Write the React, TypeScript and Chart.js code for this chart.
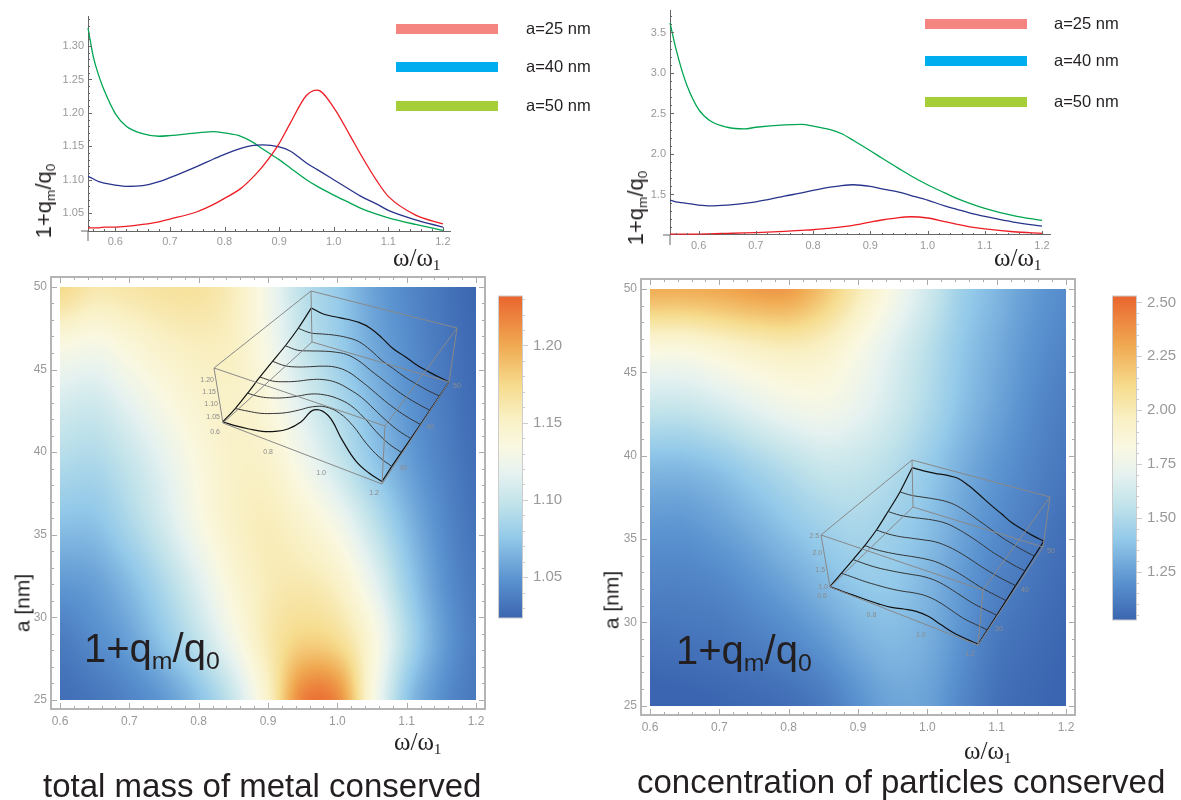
import React, { useEffect, useRef } from "react";
import { Chart, registerables } from "chart.js";

Chart.register(...registerables);

// ---------- data ----------
const curveOmega = [0.55, 0.56, 0.57, 0.58, 0.6, 0.62, 0.65, 0.68, 0.7, 0.75, 0.78, 0.8, 0.83, 0.85, 0.87, 0.9, 0.92, 0.95, 0.97, 1.0, 1.03, 1.05, 1.08, 1.1, 1.15, 1.2];
const metal25 = [1.028, 1.028, 1.028, 1.029, 1.029, 1.03, 1.033, 1.037, 1.041, 1.052, 1.063, 1.072, 1.087, 1.102, 1.12, 1.154, 1.184, 1.226, 1.234, 1.208, 1.166, 1.137, 1.097, 1.075, 1.047, 1.034];
const metal40 = [1.105, 1.101, 1.097, 1.095, 1.092, 1.09, 1.091, 1.097, 1.103, 1.12, 1.131, 1.138, 1.147, 1.151, 1.152, 1.149, 1.143, 1.125, 1.115, 1.1, 1.085, 1.075, 1.063, 1.054, 1.04, 1.029];
const metal50 = [1.327, 1.283, 1.255, 1.233, 1.199, 1.18, 1.169, 1.165, 1.166, 1.17, 1.172, 1.17, 1.165, 1.157, 1.146, 1.13, 1.118, 1.1, 1.09, 1.077, 1.065, 1.057, 1.048, 1.043, 1.033, 1.024];
const conc25 = [1.01, 1.01, 1.01, 1.01, 1.012, 1.015, 1.02, 1.025, 1.03, 1.045, 1.057, 1.065, 1.085, 1.1, 1.12, 1.16, 1.185, 1.215, 1.225, 1.21, 1.165, 1.135, 1.095, 1.075, 1.04, 1.02];
const conc40 = [1.43, 1.41, 1.4, 1.39, 1.37, 1.36, 1.37, 1.39, 1.41, 1.48, 1.52, 1.55, 1.59, 1.61, 1.62, 1.6, 1.57, 1.53, 1.49, 1.43, 1.36, 1.32, 1.26, 1.23, 1.16, 1.11];
const conc50 = [3.62, 3.31, 3.05, 2.84, 2.55, 2.41, 2.33, 2.31, 2.33, 2.36, 2.365, 2.345, 2.3, 2.25, 2.17, 2.04, 1.95, 1.82, 1.735, 1.62, 1.52, 1.455, 1.375, 1.33, 1.24, 1.18];

const gridOmega = [0.6, 0.65, 0.7, 0.75, 0.8, 0.85, 0.9, 0.95, 1.0, 1.05, 1.1, 1.15, 1.2];
const gridA = [25, 28.57, 32.14, 35.71, 39.29, 42.86, 46.43, 50];
const metalGrid = [
  [1.029, 1.033, 1.041, 1.052, 1.072, 1.102, 1.15, 1.218, 1.215, 1.137, 1.075, 1.047, 1.034],
  [1.036, 1.045, 1.056, 1.075, 1.098, 1.128, 1.16, 1.178, 1.172, 1.14, 1.09, 1.055, 1.036],
  [1.052, 1.056, 1.07, 1.09, 1.115, 1.142, 1.157, 1.16, 1.15, 1.12, 1.08, 1.05, 1.034],
  [1.072, 1.073, 1.088, 1.108, 1.132, 1.15, 1.156, 1.146, 1.128, 1.098, 1.068, 1.045, 1.031],
  [1.09, 1.088, 1.1, 1.118, 1.137, 1.15, 1.148, 1.128, 1.103, 1.077, 1.056, 1.04, 1.029],
  [1.108, 1.105, 1.118, 1.133, 1.145, 1.15, 1.138, 1.113, 1.09, 1.068, 1.05, 1.037, 1.027],
  [1.135, 1.13, 1.14, 1.15, 1.155, 1.152, 1.13, 1.1, 1.08, 1.06, 1.046, 1.034, 1.026],
  [1.175, 1.162, 1.164, 1.167, 1.167, 1.155, 1.127, 1.095, 1.077, 1.057, 1.043, 1.033, 1.024],
];
const concGrid = [
  [1.01, 1.015, 1.03, 1.045, 1.065, 1.11, 1.2, 1.27, 1.26, 1.16, 1.075, 1.04, 1.02],
  [1.07, 1.08, 1.09, 1.12, 1.16, 1.22, 1.3, 1.34, 1.3, 1.2, 1.1, 1.06, 1.03],
  [1.14, 1.14, 1.16, 1.21, 1.27, 1.34, 1.4, 1.4, 1.33, 1.23, 1.14, 1.09, 1.05],
  [1.22, 1.22, 1.26, 1.32, 1.39, 1.45, 1.48, 1.44, 1.37, 1.27, 1.18, 1.12, 1.07],
  [1.35, 1.35, 1.39, 1.46, 1.53, 1.59, 1.58, 1.52, 1.42, 1.31, 1.22, 1.15, 1.1],
  [1.58, 1.58, 1.63, 1.7, 1.76, 1.78, 1.72, 1.62, 1.5, 1.37, 1.27, 1.18, 1.12],
  [1.85, 1.85, 1.9, 1.95, 1.98, 1.94, 1.82, 1.68, 1.54, 1.4, 1.3, 1.21, 1.15],
  [2.28, 2.28, 2.3, 2.34, 2.34, 2.2, 2.0, 1.8, 1.62, 1.44, 1.335, 1.24, 1.18],
];

const omegaTicks = [0.6, 0.7, 0.8, 0.9, 1.0, 1.1, 1.2];
const metalTicks = [1.05, 1.1, 1.15, 1.2, 1.25, 1.3];
const concTicks = [1.5, 2.0, 2.5, 3.0, 3.5];
const aTicks = [25, 30, 35, 40, 45, 50];
const metalBarTicks = [1.05, 1.1, 1.15, 1.2];
const concBarTicks = [1.25, 1.5, 1.75, 2.0, 2.25, 2.5];
const legendLabels = ["a=25 nm", "a=40 nm", "a=50 nm"];
const legendColors = ["#f58580", "#00aeef", "#a6ce39"];
const lineColors = ["#ed1c24", "#27348b", "#00a651"];

const stops: [number, string][] = [
  [0, "#3b65b0"], [0.12, "#5b93d0"], [0.25, "#93c9e9"], [0.35, "#bfe2ea"], [0.45, "#e6f2f0"],
  [0.53, "#f9f8e2"], [0.62, "#f9f0c4"], [0.72, "#f6dc8e"], [0.85, "#f0a850"], [1, "#e9652f"],
];

// ---------- helpers ----------
const W = 1181, H = 800;
const stopRgb = stops.map(([p, c]) => [p, parseInt(c.slice(1, 3), 16), parseInt(c.slice(3, 5), 16), parseInt(c.slice(5, 7), 16)]);
function colorAt(t: number) {
  t = Math.max(0, Math.min(1, t));
  for (let i = 1; i < stopRgb.length; i++) {
    if (t <= stopRgb[i][0]) {
      const a = stopRgb[i - 1], b = stopRgb[i];
      const f = (t - a[0]) / (b[0] - a[0]);
      return [a[1] + (b[1] - a[1]) * f, a[2] + (b[2] - a[2]) * f, a[3] + (b[3] - a[3]) * f];
    }
  }
  return stopRgb[stopRgb.length - 1].slice(1);
}
function range(from: number, to: number, step: number) {
  const out: number[] = [];
  for (let v = from; v <= to + step / 1000; v += step) out.push(+v.toFixed(4));
  return out;
}
function padFor(l: number, t: number, r: number, b: number, axisW: number, axisH: number, rightAxis = false) {
  return rightAxis
    ? { left: l, top: t, right: W - r - axisW, bottom: H - b - axisH }
    : { left: l - axisW, top: t, right: W - r, bottom: H - b - axisH };
}
function fixedTicks(vals: number[], digits: number, color: string, size: number, padding: number, axisSize: number, vertical: boolean) {
  return {
    afterBuildTicks: (s: any) => { s.ticks = vals.map((value) => ({ value })); },
    afterFit: (s: any) => { if (vertical) s.width = axisSize; else s.height = axisSize; },
    grid: { display: false, drawTicks: false },
    ticks: {
      autoSkip: false, maxRotation: 0, minRotation: 0, padding, color,
      font: { family: "'Liberation Sans', Arial, sans-serif", size },
      callback: (v: any) => Number(v).toFixed(digits),
    },
  };
}
type Marks = { xMajor?: number[]; xMinor?: number[]; yMajor?: number[]; yMinor?: number[]; color: string; major: number; minor: number; frame?: boolean; extend?: boolean; };
function marksPlugin(m: Marks) {
  return {
    id: "marks",
    afterDatasetsDraw(chart: any) {
      const { ctx, chartArea: c, scales } = chart;
      ctx.save();
      ctx.strokeStyle = m.color;
      ctx.lineWidth = 1;
      const line = (a: number, b: number, d: number, e: number) => { ctx.beginPath(); ctx.moveTo(a, b); ctx.lineTo(d, e); ctx.stroke(); };
      const xt = (vals: number[] | undefined, len: number) => (vals || []).forEach((v) => {
        const x = Math.round(scales.x.getPixelForValue(v)) + 0.5;
        line(x, c.bottom, x, c.bottom - len);
        if (m.frame) line(x, c.top, x, c.top + len);
      });
      const yt = (vals: number[] | undefined, len: number) => (vals || []).forEach((v) => {
        const y = Math.round(scales.y.getPixelForValue(v)) + 0.5;
        line(c.left, y, c.left + len, y);
        if (m.frame) line(c.right, y, c.right - len, y);
      });
      xt(m.xMinor, m.minor); xt(m.xMajor, m.major); yt(m.yMinor, m.minor); yt(m.yMajor, m.major);
      if (m.extend) { line(c.left, c.bottom, c.left, c.bottom + 10); line(c.left - 7, c.bottom, c.left, c.bottom); }
      if (m.frame) { ctx.strokeStyle = "#b4b4b4"; ctx.lineWidth = 2; ctx.strokeRect(c.left, c.top, c.right - c.left, c.bottom - c.top); }
      ctx.restore();
    },
  };
}
function cr(p0: number, p1: number, p2: number, p3: number, t: number) {
  return 0.5 * (2 * p1 + (p2 - p0) * t + (2 * p0 - 5 * p1 + 4 * p2 - p3) * t * t + (3 * p1 - p0 - 3 * p2 + p3) * t * t * t);
}
function sample(grid: number[][], u: number, v: number) {
  const nx = grid[0].length, ny = grid.length;
  const fx = u * (nx - 1), fy = v * (ny - 1);
  const ix = Math.min(nx - 2, Math.floor(fx)), iy = Math.min(ny - 2, Math.floor(fy));
  const tx = fx - ix, ty = fy - iy;
  const row = (j: number) => {
    const r = grid[Math.max(0, Math.min(ny - 1, j))];
    const g = (i: number) => r[Math.max(0, Math.min(nx - 1, i))];
    return cr(g(ix - 1), g(ix), g(ix + 1), g(ix + 2), tx);
  };
  return cr(row(iy - 1), row(iy), row(iy + 1), row(iy + 2), ty);
}
function heatPlugin(grid: number[][], vMin: number, vMax: number) {
  let off: HTMLCanvasElement | null = null;
  return {
    id: "heat",
    beforeDatasetsDraw(chart: any) {
      const { ctx, scales } = chart;
      const x0 = scales.x.getPixelForValue(gridOmega[0]), x1 = scales.x.getPixelForValue(gridOmega[gridOmega.length - 1]);
      const y0 = scales.y.getPixelForValue(gridA[gridA.length - 1]), y1 = scales.y.getPixelForValue(gridA[0]);
      const w = Math.round(x1 - x0), h = Math.round(y1 - y0);
      if (!off) {
        off = document.createElement("canvas");
        off.width = w; off.height = h;
        const oc = off.getContext("2d")!;
        const img = oc.createImageData(w, h);
        for (let j = 0; j < h; j++) for (let i = 0; i < w; i++) {
          const val = sample(grid, (i + 0.5) / w, 1 - (j + 0.5) / h);
          const col = colorAt((val - vMin) / (vMax - vMin));
          const k = (j * w + i) * 4;
          img.data[k] = col[0]; img.data[k + 1] = col[1]; img.data[k + 2] = col[2]; img.data[k + 3] = 255;
        }
        oc.putImageData(img, 0, 0);
      }
      ctx.drawImage(off, x0, y0, x1 - x0, y1 - y0);
    },
  };
}
type Box = { f: number[][]; t: number[][]; zMin: number; zMax: number };
function project(b: Box, om: number, a: number, z: number) {
  const u = (om - 0.6) / 0.6, v = (a - 25) / 25, w = (z - b.zMin) / (b.zMax - b.zMin);
  const bil = (q: number[][], k: number) => (1 - v) * ((1 - u) * q[0][k] + u * q[1][k]) + v * ((1 - u) * q[3][k] + u * q[2][k]);
  return { x: bil(b.f, 0) + (bil(b.t, 0) - bil(b.f, 0)) * w, y: bil(b.f, 1) + (bil(b.t, 1) - bil(b.f, 1)) * w };
}

// ---------- charts ----------
const SERIF = "'Liberation Serif', 'Times New Roman', serif";
const SANS = "'Liberation Sans', Arial, sans-serif";

function lineCfg(l: number, t: number, r: number, b: number, xMin: number, xMax: number, yMin: number, yMax: number, yTicks: number[], yMinor: number[], series: number[][], size: number, pad: number) {
  return {
    type: "line",
    data: {
      labels: curveOmega,
      datasets: series.map((s, i) => ({
        data: s.map((y, k) => ({ x: curveOmega[k], y })),
        borderColor: lineColors[i], borderWidth: 1.3, pointRadius: 0, cubicInterpolationMode: "monotone", clip: false,
      })),
    },
    options: {
      animation: false, responsive: false, events: [],
      layout: { padding: padFor(l, t, r, b, 40, 30) },
      plugins: { legend: { display: false }, tooltip: { enabled: false } },
      scales: {
        x: { type: "linear", min: xMin, max: xMax, border: { color: "#666", width: 1 }, ...fixedTicks(omegaTicks, 1, "#999", size, pad, 30, false) },
        y: { type: "linear", min: yMin, max: yMax, border: { color: "#666", width: 1 }, ...fixedTicks(yTicks, yTicks[0] < 1.1 ? 2 : 1, "#999", size, 4, 40, true) },
      },
    },
    plugins: [marksPlugin({ xMajor: omegaTicks, xMinor: range(0.56, 1.2, 0.02), yMajor: yTicks, yMinor, color: "#666", major: 4, minor: 2, extend: true })],
  };
}
function heatCfg(l: number, t: number, r: number, b: number, grid: number[][], vMin: number, vMax: number) {
  return {
    type: "scatter",
    data: {
      datasets: [{
        data: grid.flatMap((row, j) => row.map((v, i) => ({ x: gridOmega[i], y: gridA[j], v }))),
        pointRadius: 0, showLine: false,
      }],
    },
    options: {
      animation: false, responsive: false, events: [],
      layout: { padding: padFor(l, t, r, b, 40, 30) },
      plugins: { legend: { display: false }, tooltip: { enabled: false } },
      scales: {
        x: { type: "linear", min: 0.587, max: 1.213, border: { display: false }, ...fixedTicks(omegaTicks, 1, "#999", 12, 5, 30, false) },
        y: { type: "linear", min: 24.45, max: 50.6, border: { display: false }, ...fixedTicks(aTicks, 0, "#999", 12, 4, 40, true) },
      },
    },
    plugins: [heatPlugin(grid, vMin, vMax), marksPlugin({ xMajor: omegaTicks, xMinor: range(0.6, 1.2, 0.02), yMajor: aTicks, yMinor: range(25, 50, 1), color: "#aaa", major: 6, minor: 3, frame: true })],
  };
}
function barCfg(l: number, t: number, r: number, b: number, vMin: number, vMax: number, ticks: number[], digits: number, minor: number[]) {
  return {
    type: "bar",
    data: {
      labels: ["scale"],
      datasets: [{
        data: [[vMin, vMax]], barPercentage: 1, categoryPercentage: 1, borderWidth: 0,
        backgroundColor: (c: any) => {
          const a = c.chart.chartArea;
          if (!a) return stops[0][1];
          const g = c.chart.ctx.createLinearGradient(0, a.bottom, 0, a.top);
          stops.forEach(([p, col]) => g.addColorStop(p, col));
          return g;
        },
      }],
    },
    options: {
      animation: false, responsive: false, events: [],
      layout: { padding: padFor(l, t, r, b, 50, 0, true) },
      plugins: { legend: { display: false }, tooltip: { enabled: false } },
      scales: {
        x: { display: false },
        y: { type: "linear", position: "right", min: vMin, max: vMax, border: { display: false }, ...fixedTicks(ticks, digits, "#999", 15, 11, 50, true) },
      },
    },
    plugins: [{
      id: "barMarks",
      afterDatasetsDraw(chart: any) {
        const { ctx, chartArea: c, scales } = chart;
        ctx.save();
        ctx.strokeStyle = "#ccc"; ctx.lineWidth = 1;
        ctx.strokeRect(c.left - 0.5, c.top, c.right - c.left + 1, c.bottom - c.top);
        const tick = (v: number, len: number) => {
          const y = Math.round(scales.y.getPixelForValue(v)) + 0.5;
          ctx.beginPath(); ctx.moveTo(c.right, y); ctx.lineTo(c.right + len, y); ctx.stroke();
        };
        minor.forEach((v) => tick(v, 3));
        ticks.forEach((v) => tick(v, 6));
        ctx.restore();
      },
    }],
  };
}
function insetCfg(box: Box, grid: number[][], zTicks: number[], zDigits: number) {
  const fixed = (p: number[]) => ({ x: p[0], y: p[1] });
  const boxLines = [
    [box.t[0], box.t[1], box.t[2], box.t[3], box.t[0]],
    [box.f[0], box.f[1], box.f[2], box.f[3], box.f[0]],
    [box.f[0], box.t[0]], [box.f[1], box.t[1]], [box.f[2], box.t[2]], [box.f[3], box.t[3]],
  ];
  const rows = grid.map((row, j) => row.map((z, i) => project(box, gridOmega[i], gridA[j], z)));
  const edgeL = grid.map((row, j) => project(box, gridOmega[0], gridA[j], row[0]));
  const edgeR = grid.map((row, j) => project(box, gridOmega[12], gridA[j], row[12]));
  return {
    type: "line",
    data: {
      datasets: [
        ...boxLines.map((pts) => ({ data: pts.map(fixed), borderColor: "#888", borderWidth: 1, pointRadius: 0, tension: 0 })),
        ...rows.map((data, j) => ({ data, borderColor: j === 0 || j === 7 ? "#111" : "#333", borderWidth: j === 0 || j === 7 ? 1.2 : 1, pointRadius: 0, tension: 0.4 })),
        { data: edgeL, borderColor: "#111", borderWidth: 1.2, pointRadius: 0, tension: 0.3 },
        { data: edgeR, borderColor: "#111", borderWidth: 1.2, pointRadius: 0, tension: 0 },
      ],
    },
    options: {
      animation: false, responsive: false, events: [],
      layout: { padding: 0 },
      plugins: { legend: { display: false }, tooltip: { enabled: false } },
      scales: {
        x: { type: "linear", min: 0, max: W, display: false },
        y: { type: "linear", min: 0, max: H, reverse: true, display: false },
      },
    },
    plugins: [{
      id: "insetLabels",
      afterDatasetsDraw(chart: any) {
        const { ctx, scales } = chart;
        ctx.save();
        ctx.fillStyle = "#8c8c8c";
        ctx.font = "7px " + SANS;
        ctx.textBaseline = "middle";
        const put = (txt: string, p: { x: number; y: number }, dx: number, dy: number, align: CanvasTextAlign) => {
          ctx.textAlign = align;
          ctx.fillText(txt, scales.x.getPixelForValue(p.x) + dx, scales.y.getPixelForValue(p.y) + dy);
        };
        zTicks.forEach((z) => put(z.toFixed(zDigits), project(box, 0.6, 25, z), -2, 0, "right"));
        [0.6, 0.8, 1.0, 1.2].forEach((o) => put(o.toFixed(1), project(box, o, 25, box.zMin), -3, 9, "right"));
        [30, 40, 50].forEach((a) => put(String(a), project(box, 1.2, a, box.zMin), 4, 4, "left"));
        ctx.restore();
      },
    }],
  };
}

const metalBox: Box = {
  f: [[223, 423], [382, 484], [449, 382], [312, 342]],
  t: [[214, 368], [385, 426], [457, 328], [311, 291]],
  zMin: 1.024, zMax: 1.25,
};
const concBox: Box = {
  f: [[830, 587], [978, 645], [1043, 547], [913, 507]],
  t: [[821, 535], [983, 590], [1050, 497], [912, 460]],
  zMin: 1.0, zMax: 2.53,
};

function configs(): any[] {
  return [
    lineCfg(88, 16, 450, 231, 0.55, 1.213, 1.0232, 1.345, metalTicks, range(1.03, 1.34, 0.01), [metal25, metal40, metal50], 11, 4),
    lineCfg(670, 8, 1050, 235, 0.55, 1.214, 1.0, 3.77, concTicks, range(1.1, 3.7, 0.1), [conc25, conc40, conc50], 11, 4),
    heatCfg(51, 277, 485, 709, metalGrid, 1.0235, 1.232),
    heatCfg(641, 279, 1075, 715, concGrid, 1.027, 2.53),
    barCfg(499, 296, 522, 618, 1.0235, 1.232, metalBarTicks, 2, range(1.03, 1.23, 0.01)),
    barCfg(1113, 296, 1136, 620, 1.027, 2.53, concBarTicks, 2, range(1.05, 2.5, 0.05)),
    insetCfg(metalBox, metalGrid, [1.05, 1.1, 1.15, 1.2], 2),
    insetCfg(concBox, concGrid, [1.0, 1.5, 2.0, 2.5], 1),
  ];
}

// ---------- text ----------
const abs: React.CSSProperties = { position: "absolute", whiteSpace: "nowrap", lineHeight: 1, color: "#231f20" };
const sub = (s: string) => <span style={{ fontSize: "0.62em", position: "relative", top: "0.28em" }}>{s}</span>;
const qLabel = <>1+q{sub("m")}/q{sub("0")}</>;
const omegaLabel = <>ω/ω{sub("1")}</>;

function Rot({ x, y, size, children }: { x: number; y: number; size: number; children: React.ReactNode }) {
  return <div style={{ ...abs, left: x, top: y, fontFamily: SANS, fontSize: size, transform: "translate(-50%,-50%) rotate(-90deg)" }}>{children}</div>;
}
function Om({ x, y }: { x: number; y: number }) {
  return <div style={{ ...abs, left: x, top: y, fontFamily: SERIF, fontSize: 25 }}>{omegaLabel}</div>;
}
function Legend({ x, tx, ys }: { x: number; tx: number; ys: number[] }) {
  return (
    <>
      {legendLabels.map((label, i) => (
        <React.Fragment key={label}>
          <div style={{ position: "absolute", left: x, top: ys[i] - 5, width: 102, height: 10, background: legendColors[i] }} />
          <div style={{ ...abs, left: tx, top: ys[i] - 9, fontFamily: SANS, fontSize: 16.5 }}>{label}</div>
        </React.Fragment>
      ))}
    </>
  );
}

export default function App() {
  const holder = useRef<HTMLDivElement>(null);
  useEffect(() => {
    const host = holder.current!;
    const charts = configs().map((cfg) => {
      const cv = document.createElement("canvas");
      cv.width = W; cv.height = H;
      cv.style.cssText = `position:absolute;left:0;top:0;width:${W}px;height:${H}px;`;
      host.appendChild(cv);
      return { cv, chart: new Chart(cv, cfg) };
    });
    return () => charts.forEach(({ cv, chart }) => { chart.destroy(); cv.remove(); });
  }, []);
  return (
    <div style={{ position: "absolute", left: 0, top: 0, width: W, height: H, overflow: "hidden", background: "#fff" }}>
      <div ref={holder} style={{ position: "absolute", left: 0, top: 0, width: W, height: H }} />
      <Rot x={44} y={201} size={22}>{qLabel}</Rot>
      <Rot x={636} y={208} size={22}>{qLabel}</Rot>
      <Rot x={22} y={603} size={21}>a [nm]</Rot>
      <Rot x={611} y={600} size={21}>a [nm]</Rot>
      <Om x={393} y={245} />
      <Om x={994} y={245} />
      <Om x={394} y={729} />
      <Om x={964} y={738} />
      <Legend x={396} tx={526} ys={[29, 67, 106]} />
      <Legend x={925} tx={1054} ys={[24, 61, 102]} />
      <div style={{ ...abs, left: 84, top: 628, fontFamily: SANS, fontSize: 40 }}>{qLabel}</div>
      <div style={{ ...abs, left: 676, top: 630, fontFamily: SANS, fontSize: 40 }}>{qLabel}</div>
      <div style={{ ...abs, left: 43, top: 769, fontFamily: SANS, fontSize: 33 }}>total mass of metal conserved</div>
      <div style={{ ...abs, left: 637, top: 765, fontFamily: SANS, fontSize: 33 }}>concentration of particles conserved</div>
    </div>
  );
}
